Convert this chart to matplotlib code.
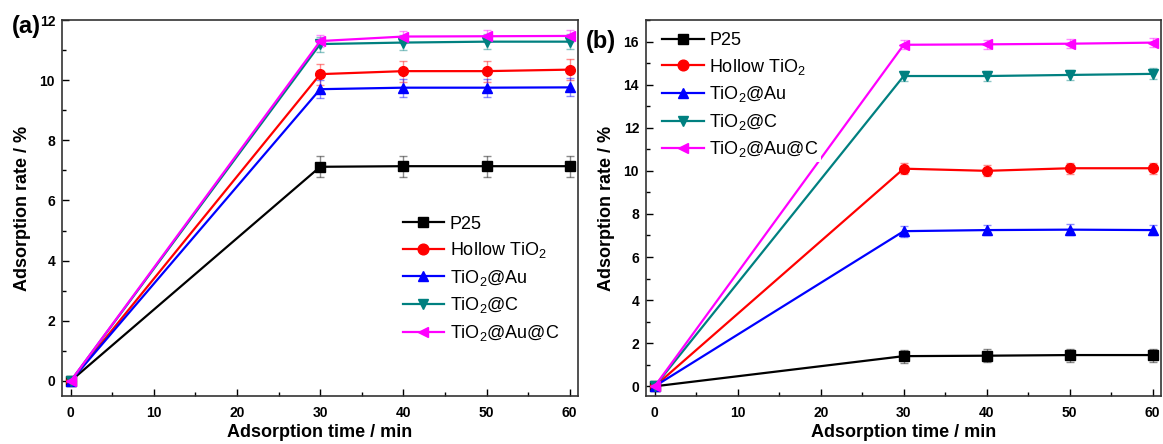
import numpy as np
import matplotlib
matplotlib.use("Agg")
import matplotlib.pyplot as plt
from matplotlib.ticker import MultipleLocator

plt.rcParams['font.family'] = ['Liberation Sans', 'DejaVu Sans']
plt.rcParams['mathtext.fontset'] = 'custom'
plt.rcParams['mathtext.rm'] = 'Liberation Sans'
plt.rcParams['mathtext.it'] = 'Liberation Sans:italic'
plt.rcParams['mathtext.bf'] = 'Liberation Sans:bold'

# adsorption time (min)
times = [0, 30, 40, 50, 60]
labels = ['P25', 'Hollow TiO$_2$', 'TiO$_2$@Au', 'TiO$_2$@C', 'TiO$_2$@Au@C']
colors = ['black', 'red', 'blue', '#008080', '#ff00ff']
markers = ['s', 'o', '^', 'v', '<']

# panel (a)
a_p25 = [0, 7.12, 7.14, 7.14, 7.14]
a_hollow = [0, 10.2, 10.3, 10.3, 10.35]
a_au = [0, 9.7, 9.75, 9.75, 9.76]
a_c = [0, 11.2, 11.25, 11.28, 11.28]
a_auc = [0, 11.3, 11.45, 11.46, 11.47]
a_err = [[0, 0.35, 0.35, 0.35, 0.35],
         [0, 0.35, 0.35, 0.35, 0.35],
         [0, 0.3, 0.3, 0.3, 0.3],
         [0, 0.25, 0.25, 0.25, 0.25],
         [0, 0.2, 0.2, 0.2, 0.2]]

# panel (b)
b_p25 = [0, 1.4, 1.42, 1.45, 1.45]
b_hollow = [0, 10.1, 10.0, 10.12, 10.12]
b_au = [0, 7.2, 7.25, 7.27, 7.25]
b_c = [0, 14.4, 14.4, 14.45, 14.5]
b_auc = [0, 15.85, 15.87, 15.9, 15.95]
b_err = [[0, 0.3, 0.3, 0.3, 0.3],
         [0, 0.25, 0.25, 0.25, 0.25],
         [0, 0.25, 0.25, 0.25, 0.25],
         [0, 0.25, 0.25, 0.25, 0.25],
         [0, 0.2, 0.2, 0.2, 0.2]]

fig = plt.figure(figsize=(11.63, 4.44), dpi=100)
ax1 = fig.add_axes([62/1163, 48/444, 516/1163, 376/444])
ax2 = fig.add_axes([646/1163, 48/444, 515/1163, 376/444])


def draw(ax, series, errs, ylim, ymaj):
    lines = []
    for y, e, lab, c, m in zip(series, errs, labels, colors, markers):
        cont = ax.errorbar(times, y, yerr=e, color=c, marker=m, markersize=7,
                           linewidth=1.6, ecolor=matplotlib.colors.to_rgba(c, 0.45),
                           elinewidth=1, capsize=3)
        cont[0].set_label(lab)
        lines.append(cont[0])
    ax.set_xlim(-1.05, 61)
    ax.set_ylim(*ylim)
    ax.xaxis.set_major_locator(MultipleLocator(10))
    ax.xaxis.set_minor_locator(MultipleLocator(5))
    ax.yaxis.set_major_locator(MultipleLocator(ymaj))
    ax.yaxis.set_minor_locator(MultipleLocator(1))
    ax.tick_params(which='both', direction='in', top=False, right=False)
    ax.tick_params(which='major', length=5, width=1)
    ax.tick_params(which='minor', length=3, width=1)
    ax.tick_params(axis='x', pad=7, labelsize=10)
    ax.tick_params(axis='y', pad=5, labelsize=10)
    for t in ax.get_xticklabels() + ax.get_yticklabels():
        t.set_fontweight('bold')
    for s in ax.spines.values():
        s.set_linewidth(1.2)
        s.set_color('#333333')
    ax.set_xlabel('Adsorption time / min', fontsize=13, fontweight='bold', labelpad=3)
    ax.set_ylabel('Adsorption rate / %', fontsize=13, fontweight='bold', labelpad=6)
    return lines


l1 = draw(ax1, [a_p25, a_hollow, a_au, a_c, a_auc], a_err, (-0.5, 12), 2)
l2 = draw(ax2, [b_p25, b_hollow, b_au, b_c, b_auc], b_err, (-0.45, 17), 2)

ax1.legend(handles=l1, loc='upper left', bbox_to_anchor=(0.66, 0.48), frameon=False,
           fontsize=13, handlelength=2.3, handletextpad=0.3, labelspacing=0.42,
           borderpad=0, borderaxespad=0, markerscale=1.1)
leg2 = ax2.legend(handles=l2, loc='upper left', bbox_to_anchor=(0.026, 0.975), frameon=True,
                  fontsize=13, handlelength=2.3, handletextpad=0.3, labelspacing=0.42,
                  borderpad=0.15, borderaxespad=0, fancybox=False, markerscale=1.1)
leg2.get_frame().set_edgecolor('none')
leg2.get_frame().set_facecolor('white')
leg2.get_frame().set_alpha(1)

fig.text(12/1163, 1 - 26/444, '(a)', fontsize=17, fontweight='bold', va='center', ha='left')
fig.text(586/1163, 1 - 41/444, '(b)', fontsize=17, fontweight='bold', va='center', ha='left')

fig.savefig('out.png', dpi=100)
